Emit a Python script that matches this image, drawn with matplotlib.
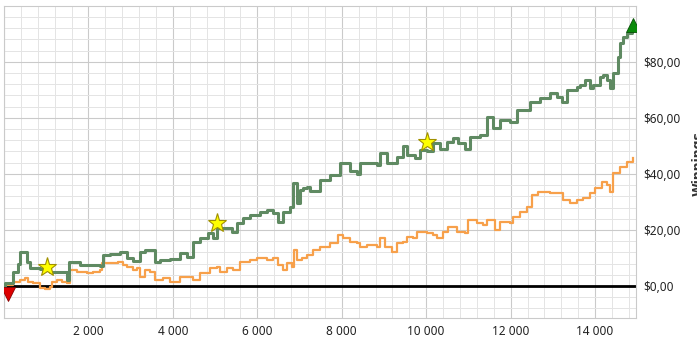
import matplotlib.pyplot as plt
from matplotlib.ticker import FuncFormatter, MultipleLocator

# trade number / cumulative winnings
green_x = [0, 35, 225, 343, 390, 509, 556, 627, 864, 1030, 1100, 1337, 1500, 1550, 1811, 2284, 2355, 2521,
           2757, 2923, 3065, 3231, 3349, 3467, 3586, 3704, 3941, 4178, 4343, 4485, 4651, 4840, 4959, 5053,
           5290, 5408, 5527, 5669, 5834, 6071, 6237, 6379, 6497, 6615, 6781, 6852, 6947, 7018, 7089, 7183,
           7254, 7491, 7728, 7964, 8201, 8367, 8438, 8840, 8911, 9077, 9314, 9456, 9550, 9740, 9858, 10024,
           10166, 10331, 10497, 10639, 10757, 10923, 11041, 11278, 11444, 11586, 11751, 11988, 12154, 12462,
           12698, 12935, 13101, 13219, 13337, 13408, 13574, 13645, 13763, 13882, 13953, 14118, 14189, 14284,
           14355, 14402, 14426, 14544, 14592, 14663, 14757, 14876, 14900]
green_y = [0, 1, 5, 8, 12, 12, 8.6, 6.4, 6, 6.8, 5, 5, 2, 8.6, 7.5, 7, 11, 11.4,
           12, 10, 9, 12, 12.9, 12.9, 8.6, 9.3, 9.6, 11.8, 10.4, 15.7, 17, 19, 17, 20.7,
           20.7, 19.3, 22.5, 24.3, 25.4, 26.4, 27, 26, 22.9, 26.4, 28.2, 36.8, 29.6, 34.3, 35, 35.4,
           34, 38, 39.6, 44, 41, 40, 44, 43, 47.5, 44, 46, 50, 46.8, 45.7, 48.6, 48,
           51, 49, 51.4, 52.9, 51, 49, 53, 54, 60.4, 56.4, 59.3, 58.6, 62.9, 65.7,
           67, 69, 67.5, 65.7, 70, 70, 71, 71.8, 73.6, 70.7, 71.8, 74.6, 75.4, 73.6,
           70.7, 70.7, 76, 81.8, 86.8, 89, 90.4, 91.4, 91.4]

orange_x = [0, 35, 225, 390, 509, 580, 698, 864, 982, 1100, 1148, 1266, 1385, 1503, 1574, 1740, 1976, 2118,
            2284, 2331, 2521, 2710, 2828, 2923, 3065, 3160, 3231, 3349, 3467, 3586, 3775, 3941, 4178, 4414,
            4485, 4651, 4888, 5053, 5124, 5290, 5432, 5598, 5834, 6000, 6237, 6379, 6497, 6615, 6710, 6828,
            6876, 6947, 7065, 7183, 7325, 7491, 7728, 7917, 8036, 8201, 8367, 8438, 8604, 8840, 8911, 9030,
            9195, 9314, 9456, 9550, 9692, 9787, 10024, 10166, 10260, 10402, 10521, 10734, 10923, 10994, 11207,
            11349, 11444, 11633, 11751, 11988, 12059, 12225, 12391, 12509, 12651, 12935, 13124, 13243, 13408,
            13574, 13716, 13882, 14000, 14166, 14284, 14355, 14426, 14592, 14757, 14900]
orange_y = [0, 0.4, 1.4, 2.1, 2.9, 1.4, 1.1, -0.7, -1.1, -0.4, 1.4, 2.1, 1.4, 1.1, 5.7, 5, 4.6, 5,
            5.7, 8.2, 8.2, 8.6, 7.5, 6.8, 5.7, 6.4, 3.2, 5.7, 5, 2.1, 2.9, 1.4, 3.2, 3.2,
            2.1, 4.6, 6.4, 6.8, 5, 6.4, 5.7, 8.6, 9.3, 10, 9.3, 10, 7.5, 5.7, 8.2, 6.8,
            12.9, 9.3, 10, 11, 12.9, 14, 15.4, 18.2, 17.1, 15.7, 15.4, 14, 14.6, 14, 17.1, 14,
            12.1, 15.4, 15.7, 17.5, 17.1, 19.3, 19, 18.2, 17.1, 19.3, 21, 19.3, 19, 23.6, 22.5,
            21.8, 23.6, 20, 22.9, 22.5, 24.6, 26.4, 28.2, 32.5, 33.6, 33.2, 33.2, 30.7, 29.6,
            30.7, 31.4, 33.2, 35, 37.1, 36.1, 33.6, 40.4, 42.5, 44.3, 45.7]

star_x = [1030, 5053, 10024]
star_y = [6.8, 22.5, 51.4]
start_point = (100, -3)
end_point = (14900, 93)

fig = plt.figure(figsize=(6.97, 3.48), dpi=100)
axis = fig.add_axes([0.0057, 0.0862, 0.9068, 0.8966])

axis.xaxis.set_major_locator(MultipleLocator(2000))
axis.xaxis.set_minor_locator(MultipleLocator(400))
axis.yaxis.set_major_locator(MultipleLocator(20))
axis.yaxis.set_minor_locator(MultipleLocator(4))
axis.grid(which="major", color="#cacaca", linewidth=0.8)
axis.grid(which="minor", color="#e4e4e4", linewidth=0.7)
axis.set_axisbelow(True)

axis.axhline(0, color="black", linewidth=2, zorder=2)
axis.plot(orange_x, orange_y, drawstyle="steps-post", color="#f7a04a", linewidth=1.6, zorder=3)
axis.plot(green_x, green_y, drawstyle="steps-post", color="#5f8a62", linewidth=2.2, zorder=4)

axis.plot(star_x, star_y, linestyle="none", marker="*", markersize=14,
          markerfacecolor="#ffff00", markeredgecolor="#a09000", markeredgewidth=0.8, zorder=6)
axis.plot(*start_point, linestyle="none", marker="v", markersize=10,
          markerfacecolor="#dd0000", markeredgecolor="#880000", markeredgewidth=0.6, zorder=6)
axis.plot(*end_point, linestyle="none", marker="^", markersize=10,
          markerfacecolor="#0a8a0a", markeredgecolor="#055005", markeredgewidth=0.6, zorder=6)

axis.set_xlim(0, 14970)
axis.set_ylim(-11.4, 99.9)

axis.xaxis.set_major_formatter(FuncFormatter(lambda v, p: "" if v <= 0 else f"{int(v):,}".replace(",", " ")))
axis.yaxis.set_major_formatter(FuncFormatter(lambda v, p: f"${v:.2f}".replace(".", ",")))
axis.yaxis.tick_right()
axis.tick_params(which="both", length=0, labelsize=8.5, colors="#222222", pad=5)
for label in axis.get_xticklabels() + axis.get_yticklabels():
    label.set_fontfamily("Noto Sans")

for spine in axis.spines.values():
    spine.set_color("#cacaca")
    spine.set_linewidth(0.8)

# axis title sits mostly past the right edge, as in the reference
fig.text(0.993, 0.53, "Winnings", rotation=90, ha="left", va="center",
         fontsize=9, fontweight="bold", color="#333333")

fig.savefig("out.png", dpi=100)
